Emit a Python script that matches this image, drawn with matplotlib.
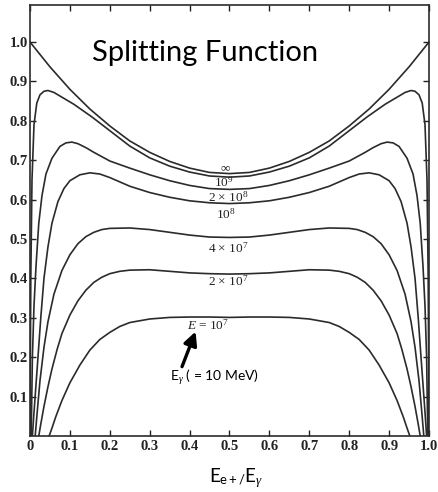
import matplotlib
matplotlib.use("Agg")
import matplotlib.pyplot as plt

# curves (x = E+/E_gamma, y = relative probability)
x_inf = [0.0, 0.05, 0.1, 0.15, 0.2, 0.25, 0.3, 0.35, 0.4, 0.45, 0.5,
         0.55, 0.6, 0.65, 0.7, 0.75, 0.8, 0.85, 0.9, 0.95, 1.0]
y_inf = [1.0, 0.937, 0.88, 0.83, 0.787, 0.749, 0.72, 0.697, 0.68, 0.669, 0.666,
         0.669, 0.68, 0.697, 0.72, 0.749, 0.787, 0.83, 0.88, 0.937, 1.0]

x_1e9 = [0.0, 0.002, 0.005, 0.01, 0.017, 0.025, 0.035, 0.045, 0.06, 0.08, 0.11, 0.155,
         0.2, 0.25, 0.3, 0.35, 0.4, 0.45, 0.5,
         0.55, 0.6, 0.65, 0.7, 0.75, 0.8, 0.845, 0.89, 0.92, 0.94, 0.955, 0.965,
         0.975, 0.983, 0.99, 0.995, 0.998, 1.0]
y_1e9 = [0.0, 0.4, 0.65, 0.79, 0.845, 0.866, 0.875, 0.877, 0.872, 0.86, 0.842, 0.81,
         0.775, 0.736, 0.706, 0.685, 0.67, 0.66, 0.657,
         0.66, 0.67, 0.685, 0.706, 0.736, 0.775, 0.81, 0.842, 0.86, 0.872, 0.877, 0.875,
         0.866, 0.845, 0.79, 0.65, 0.4, 0.0]

x_2e8 = [0.003, 0.006, 0.01, 0.015, 0.022, 0.03, 0.04, 0.055, 0.075, 0.09, 0.105, 0.12,
         0.14, 0.16, 0.2, 0.25, 0.3, 0.35, 0.4, 0.45, 0.5,
         0.55, 0.6, 0.65, 0.7, 0.75, 0.8, 0.84, 0.86, 0.88, 0.895, 0.91, 0.925,
         0.945, 0.96, 0.97, 0.978, 0.985, 0.99, 0.994, 0.997]
y_2e8 = [0.0, 0.2, 0.33, 0.43, 0.54, 0.61, 0.665, 0.705, 0.735, 0.744, 0.746, 0.742,
         0.732, 0.72, 0.698, 0.68, 0.663, 0.648, 0.636, 0.628, 0.626,
         0.628, 0.636, 0.648, 0.663, 0.68, 0.698, 0.72, 0.732, 0.742, 0.746, 0.744, 0.735,
         0.705, 0.665, 0.61, 0.54, 0.43, 0.33, 0.2, 0.0]

x_1e8 = [0.006, 0.01, 0.015, 0.02, 0.027, 0.035, 0.045, 0.055, 0.07, 0.085, 0.1, 0.125,
         0.15, 0.175, 0.2, 0.225, 0.25, 0.3, 0.35, 0.4, 0.45, 0.5,
         0.55, 0.6, 0.65, 0.7, 0.75, 0.775, 0.8, 0.825, 0.85, 0.875, 0.9, 0.915,
         0.93, 0.945, 0.955, 0.965, 0.973, 0.98, 0.985, 0.99, 0.994]
y_1e8 = [0.0, 0.06, 0.13, 0.2, 0.3, 0.4, 0.48, 0.54, 0.595, 0.628, 0.648, 0.663,
         0.668, 0.665, 0.656, 0.645, 0.634, 0.618, 0.606, 0.597, 0.592, 0.59,
         0.592, 0.597, 0.606, 0.618, 0.634, 0.645, 0.656, 0.665, 0.668, 0.663, 0.648, 0.628,
         0.595, 0.54, 0.48, 0.4, 0.3, 0.2, 0.13, 0.06, 0.0]

x_4e7 = [0.013, 0.018, 0.025, 0.035, 0.045, 0.06, 0.08, 0.1, 0.12, 0.14, 0.16, 0.18,
         0.2, 0.25, 0.3, 0.35, 0.4, 0.45, 0.5,
         0.55, 0.6, 0.65, 0.7, 0.75, 0.8, 0.82, 0.84, 0.86, 0.88, 0.9, 0.92,
         0.94, 0.955, 0.965, 0.975, 0.982, 0.987]
y_4e7 = [0.0, 0.06, 0.14, 0.225, 0.29, 0.36, 0.42, 0.46, 0.488, 0.506, 0.517, 0.524,
         0.527, 0.528, 0.524, 0.517, 0.51, 0.505, 0.504,
         0.505, 0.51, 0.517, 0.524, 0.528, 0.527, 0.524, 0.517, 0.506, 0.488, 0.46, 0.42,
         0.36, 0.29, 0.225, 0.14, 0.06, 0.0]

x_2e7 = [0.022, 0.027, 0.035, 0.045, 0.055, 0.068, 0.08, 0.1, 0.12, 0.14, 0.16, 0.18,
         0.2, 0.225, 0.25, 0.3, 0.35, 0.4, 0.45, 0.5,
         0.55, 0.6, 0.65, 0.7, 0.75, 0.775, 0.8, 0.82, 0.84, 0.86, 0.88, 0.9,
         0.92, 0.932, 0.945, 0.955, 0.965, 0.973, 0.978]
y_2e7 = [0.0, 0.03, 0.075, 0.125, 0.17, 0.22, 0.26, 0.307, 0.343, 0.37, 0.39, 0.403,
         0.412, 0.418, 0.421, 0.422, 0.418, 0.414, 0.412, 0.411,
         0.412, 0.414, 0.418, 0.422, 0.421, 0.418, 0.412, 0.403, 0.39, 0.37, 0.343, 0.307,
         0.26, 0.22, 0.17, 0.125, 0.075, 0.03, 0.0]

x_1e7 = [0.048, 0.055, 0.065, 0.08, 0.1, 0.125, 0.15, 0.175, 0.2, 0.225, 0.25, 0.3,
         0.35, 0.4, 0.45, 0.5,
         0.55, 0.6, 0.65, 0.7, 0.75, 0.775, 0.8, 0.825, 0.85, 0.875, 0.9, 0.92,
         0.935, 0.945, 0.952]
y_1e7 = [0.0, 0.02, 0.05, 0.09, 0.135, 0.18, 0.218, 0.245, 0.263, 0.278, 0.288, 0.297,
         0.301, 0.302, 0.302, 0.301,
         0.302, 0.302, 0.301, 0.297, 0.288, 0.278, 0.263, 0.245, 0.218, 0.18, 0.135, 0.09,
         0.05, 0.02, 0.0]

curves = [(x_inf, y_inf), (x_1e9, y_1e9), (x_2e8, y_2e8), (x_1e8, y_1e8),
          (x_4e7, y_4e7), (x_2e7, y_2e7), (x_1e7, y_1e7)]

labels = [r"$\infty$", r"10$^9$", r"2 $\times$ 10$^8$", r"10$^8$",
          r"4 $\times$ 10$^7$", r"2 $\times$ 10$^7$", r"$E$ = 10$^7$"]
label_x = [0.49, 0.485, 0.497, 0.49, 0.497, 0.497, 0.447]
label_y = [0.68, 0.643, 0.607, 0.563, 0.477, 0.392, 0.282]

x_ticks = [0, 0.1, 0.2, 0.3, 0.4, 0.5, 0.6, 0.7, 0.8, 0.9, 1.0]
x_ticklabels = ["0", "0.1", "0.2", "0.3", "0.4", "0.5", "0.6", "0.7", "0.8", "0.9", "1.0"]
y_ticks = [0.1, 0.2, 0.3, 0.4, 0.5, 0.6, 0.7, 0.8, 0.9, 1.0]
y_ticklabels = ["0.1", "0.2", "0.3", "0.4", "0.5", "0.6", "0.7", "0.8", "0.9", "1.0"]

plt.rcParams["mathtext.fontset"] = "custom"
plt.rcParams["mathtext.rm"] = "Liberation Serif"
plt.rcParams["mathtext.it"] = "Liberation Serif:italic"

fig = plt.figure(figsize=(4.39, 4.92), dpi=100)
ax = fig.add_axes([30 / 439, 1 - 436 / 492, 399 / 439, 431 / 492])

line_color = "#2b2b2b"
for xs, ys in curves:
    ax.plot(xs, ys, color=line_color, linewidth=1.2, solid_joinstyle="round")

for lab, lx, ly in zip(labels, label_x, label_y):
    ax.text(lx, ly, lab, ha="center", va="center", fontsize=9.5,
            family="Liberation Serif", color="#222222")

ax.set_xlim(0, 1.0)
ax.set_ylim(0, 1.094)

ax.set_xticks(x_ticks)
ax.set_xticklabels(x_ticklabels)
ax.set_yticks(y_ticks)
ax.set_yticklabels(y_ticklabels)
ax.tick_params(direction="in", length=4, width=1, top=True, right=True,
               labelsize=10.5, pad=3, colors="#222222")
ax.tick_params(axis="y", pad=1.5)
for lab in ax.get_xticklabels() + ax.get_yticklabels():
    lab.set_family("Liberation Serif")
    lab.set_weight("bold")
for sp in ax.spines.values():
    sp.set_linewidth(1.2)
    sp.set_color("#2b2b2b")

# slide annotations
ax.text(0.44, 0.972, "Splitting Function", ha="center", va="center",
        fontsize=21, family="Lato", color="black")

ax.annotate("", xy=(0.415, 0.265), xytext=(0.381, 0.176),
            arrowprops=dict(arrowstyle="-|>,head_length=0.8,head_width=0.4",
                            color="black", lw=2.4, shrinkA=0, shrinkB=0))
ax.text(0.35, 0.148, r"E$_\gamma$ ( = 10 MeV)", ha="left", va="center",
        fontsize=10, family="Lato", color="black")

fig.text(236 / 439, 1 - 478 / 492, r"E$_{\mathregular{e+/}}$E$_\gamma$",
         ha="center", va="center", fontsize=13.5, family="Lato", color="black")

fig.savefig("out.png", dpi=100)
